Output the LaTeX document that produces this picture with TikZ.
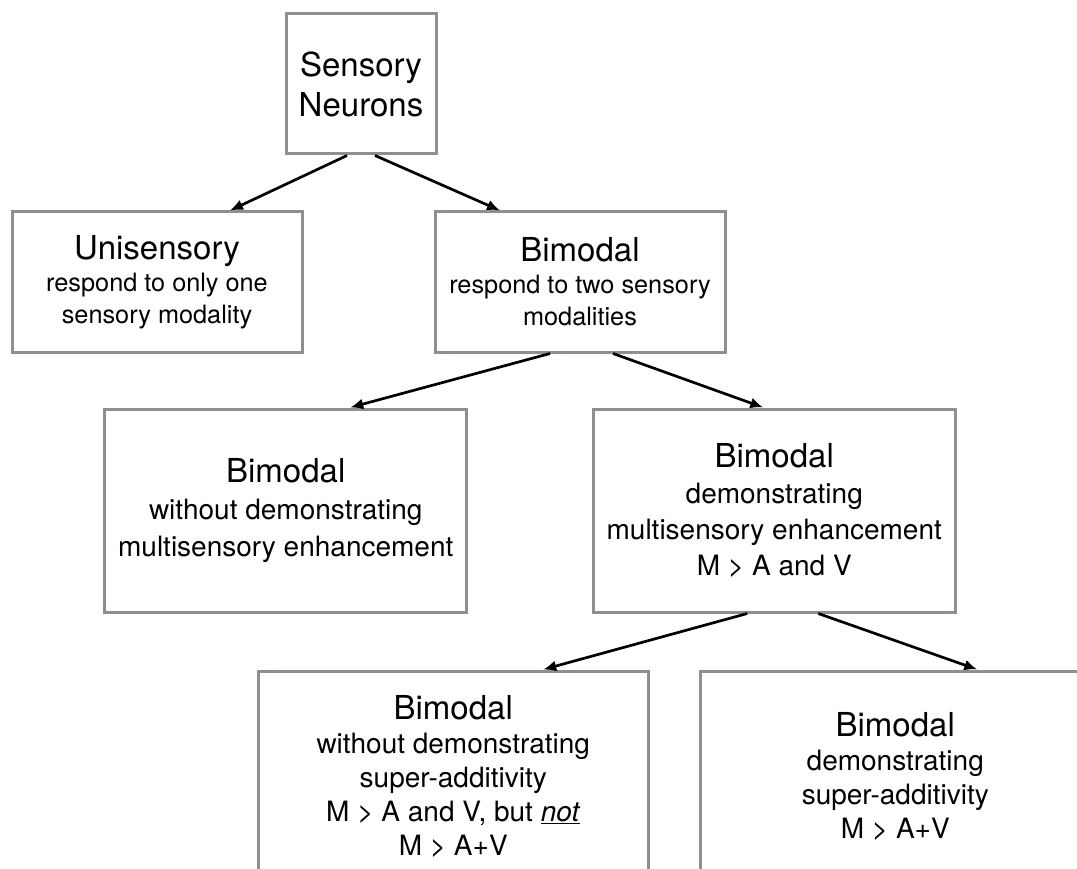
\documentclass[tikz,border=0pt]{standalone}
\usepackage{fontspec}
\setmainfont{TeX Gyre Heros}
\usepackage{tikz}
\usetikzlibrary{arrows.meta,trees}
\definecolor{boxgray}{HTML}{8C9094}

\newcommand{\boxtitle}[1]{{\fontsize{33}{35}\selectfont #1}}

\begin{document}
\begin{tikzpicture}
	[x=1pt, y=-1pt,
	 box/.style={draw=boxgray, line width=3pt, align=center, inner sep=0pt},
	 topbox/.style={box, minimum width=150pt, minimum height=140pt, font=\fontsize{33}{40}\selectfont},
	 onebox/.style={box, minimum width=290pt, minimum height=140pt, font=\fontsize{25.3}{32}\selectfont},
	 twobox/.style={box, minimum width=362pt, minimum height=203pt, font=\fontsize{28}{37}\selectfont},
	 threebox/.style={box, minimum width=390pt, minimum height=210pt, font=\fontsize{28}{34}\selectfont},
	 link/.style={line width=2.7pt, -{Latex[length=13pt,width=11pt]}},
	 edge from parent/.style={draw=none},
	 level 1/.style={grow via three points={one child at (0,198) and two children at (-204,198) and (219,198)}},
	 level 2/.style={grow via three points={one child at (0,228.5) and two children at (-294.25,228.5) and (194.25,228.5)}},
	 level 3/.style={grow via three points={one child at (0,265.5) and two children at (-321,265.5) and (121,265.5)}}]
	\useasboundingbox (0,0) rectangle (1077,869);
	\clip (0,0) rectangle (1077,869);
	\node[topbox] (sense) at (361,84) {Sensory\\Neurons}
	child {node[onebox] (uni) {\boxtitle{Unisensory}\\respond to only one\\sensory modality}}
	child {node[onebox] (bim) {\boxtitle{Bimodal}\\respond to two sensory\\modalities}
		child {node[twobox] (plain) {\boxtitle{Bimodal}\\without demonstrating\\multisensory enhancement}}
		child {node[twobox, font=\fontsize{28}{36}\selectfont] (enh) {\boxtitle{Bimodal}\\demonstrating\\multisensory enhancement\\M > A and V}
			child {node[threebox] (noadd) {\boxtitle{Bimodal}\\without demonstrating\\super-additivity\\M > A and V, but \underline{\textit{not}}\\M > A+V}}
			child {node[threebox] (add) {\boxtitle{Bimodal}\\demonstrating\\super-additivity\\M > A+V}}
		}
	};

	% arrows
	\draw[link] ([xshift=-14pt]sense.south) -- ([xshift=73pt]uni.north);
	\draw[link] ([xshift=14pt]sense.south) -- ([xshift=-80pt]bim.north);
	\draw[link] ([xshift=-30pt]bim.south) -- ([xshift=64.5pt]plain.north);
	\draw[link] ([xshift=33pt]bim.south) -- ([xshift=-11pt]enh.north);
	\draw[link] ([xshift=-27pt]enh.south) -- ([xshift=90pt]noadd.north);
	\draw[link] ([xshift=44pt]enh.south) -- ([xshift=82pt]add.north);
\end{tikzpicture}
\end{document}
